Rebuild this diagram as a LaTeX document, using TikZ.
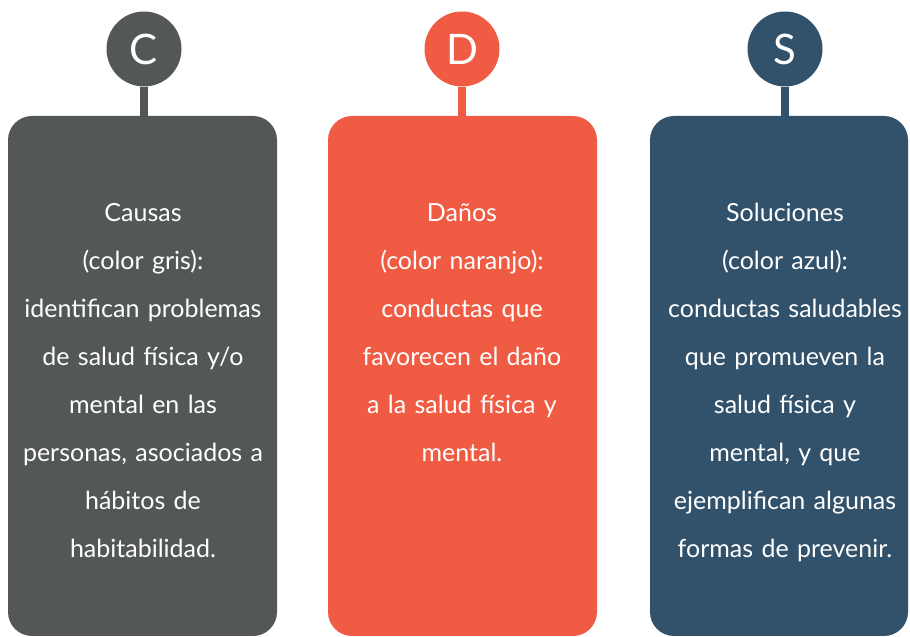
\documentclass[tikz,border=0pt]{standalone}
\usepackage{fontspec}
\setmainfont{Lato}[WordSpace=0.85]
\usetikzlibrary{positioning}
\usepackage{xcolor}
\definecolor{cgris}{HTML}{535756}
\definecolor{cnar}{HTML}{F05B44}
\definecolor{cazul}{HTML}{32526B}
\tikzset{
  letra/.style={circle,fill=#1,minimum size=75pt,inner sep=0pt,text=white,font=\fontsize{42}{42}\selectfont},
  caja/.style={rectangle,rounded corners=24pt,fill=#1,minimum height=520pt,inner sep=0pt},
  texto/.style={text=white,align=center,inner sep=0pt,anchor=base,text width=262pt,font=\fontsize{25}{48}\selectfont},
  tallo/.style={draw=#1,line width=8pt},
}

\begin{document}
\begin{tikzpicture}[x=1pt,y=1pt]
  \useasboundingbox (0,0) rectangle (910,637);
  \node[caja=cgris,minimum width=269pt] (cajaC) at (142.5,261) {};
  \node[caja=cnar,minimum width=269pt] (cajaD) at (462.5,261) {};
  \node[caja=cazul,minimum width=258pt] (cajaS) at (779,261) {};
  \node[letra=cgris] (C) at (144,588) {C};
  \node[letra=cnar] (D) at (462,588) {D};
  \node[letra=cazul] (S) at (785,588) {S};
  \draw[tallo=cgris] (C.south) -- (C.south |- cajaC.north);
  \draw[tallo=cnar] (D.south) -- (D.south |- cajaD.north);
  \draw[tallo=cazul] (S.south) -- (S.south |- cajaS.north);
  \node[texto] (tC) at (143,415) {Causas\\(color gris):\\identifican problemas\\de salud física y/o\\mental en las\\personas, asociados a\\hábitos de\\habitabilidad.};
  \node[texto] (tD) at (462,415) {Daños\\(color naranjo):\\conductas que\\favorecen el daño\\a la salud física y\\mental.};
  \node[texto] (tS) at (785,415) {Soluciones\\(color azul):\\conductas saludables\\que promueven la\\salud física y\\mental, y que\\ejemplifican algunas\\formas de prevenir.};
\end{tikzpicture}
\end{document}
